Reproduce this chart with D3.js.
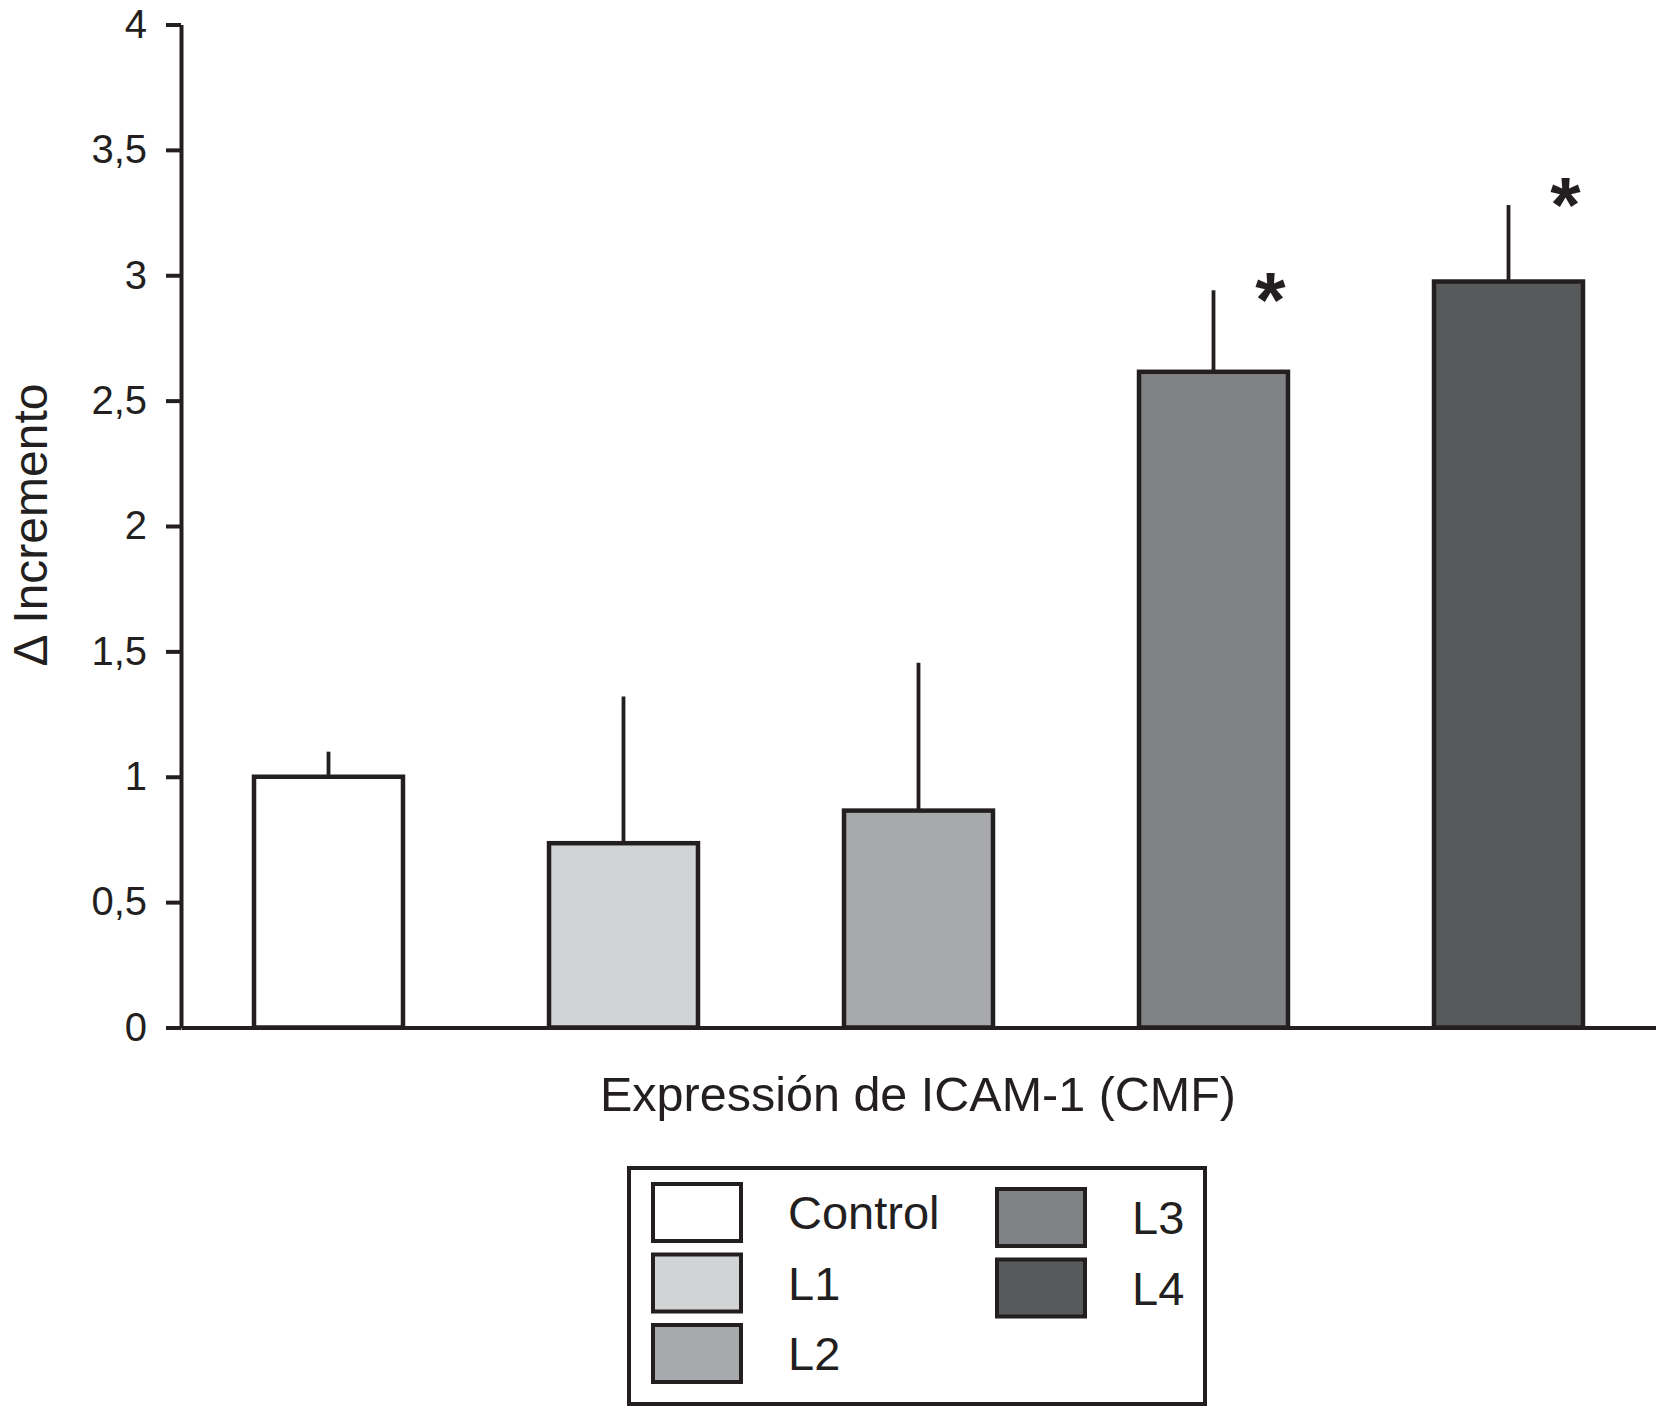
<!DOCTYPE html>
<html>
<head>
<meta charset="utf-8">
<script src="https://cdn.jsdelivr.net/npm/d3@7"></script>
<style>
  body { margin: 0; background: #fff; }
  text { font-family: "Liberation Sans", Arial, Helvetica, sans-serif; fill: #231f20; }
</style>
</head>
<body>
<div id="container"></div>
<script>
"use strict";

// Data.
const categories = ["Control", "L1", "L2", "L3", "L4"];
const means = [1.0, 0.735, 0.865, 2.615, 2.975];
const errors = [0.1, 0.585, 0.59, 0.325, 0.305];
// Height (in axis units) of the significance mark, null when none.
const starLevels = [null, null, null, 2.97, 3.35];
const fills = ["#ffffff", "#d1d3d4", "#a7a9ac", "#808285", "#58595b"];
const yTicks = [0, 0.5, 1, 1.5, 2, 2.5, 3, 3.5, 4];
const yTitle = "\u0394 Incremento";
const xTitle = "Expressión de ICAM-1 (CMF)";
// Legend columns: indexes into categories.
const legendColumns = [[0, 1, 2], [3, 4]];

const width = 1656;
const height = 1407;
const ink = "#231f20";

const data = categories.map((key, i) => ({
  key,
  value: means[i],
  err: errors[i],
  star: starLevels[i],
  fill: fills[i],
}));

const svg = d3.create("svg").attr("width", width).attr("height", height);

const x = d3
  .scaleBand()
  .domain(categories)
  .range([181, 1656])
  .paddingInner(0.495)
  .paddingOuter(0.2475);

const y = d3.scaleLinear().domain([0, 4]).range([1027.5, 24.5]);

// Draw bar.
svg
  .selectAll(".bar")
  .data(data)
  .enter()
  .append("rect")
  .attr("class", "bar")
  .attr("x", (d) => x(d.key))
  .attr("y", (d) => y(d.value))
  .attr("width", x.bandwidth())
  .attr("height", (d) => y(0) - y(d.value))
  .style("fill", (d) => d.fill)
  .style("stroke", ink)
  .style("stroke-width", 4.5);

// Upper error bars, no caps.
svg
  .selectAll(".err")
  .data(data)
  .enter()
  .append("line")
  .attr("class", "err")
  .attr("x1", (d) => x(d.key) + x.bandwidth() / 2)
  .attr("x2", (d) => x(d.key) + x.bandwidth() / 2)
  .attr("y1", (d) => y(d.value))
  .attr("y2", (d) => y(d.value + d.err))
  .style("stroke", ink)
  .style("stroke-width", 3.8);

// Significance marks.
const starSize = 78;
svg
  .selectAll(".star")
  .data(data.filter((d) => d.star !== null))
  .enter()
  .append("text")
  .attr("class", "star")
  .attr("x", (d) => x(d.key) + x.bandwidth() / 2 + 57)
  .attr("y", (d) => y(d.star) + starSize * 0.57)
  .attr("text-anchor", "middle")
  .style("font-size", `${starSize}px`)
  .style("font-weight", "bold")
  .text("*");

// Draw x-axis.
svg
  .append("g")
  .attr("transform", `translate(0, ${y(0)})`)
  .call(d3.axisBottom(x).tickValues([]).tickSizeOuter(0))
  .call((g) => g.select(".domain").attr("stroke", ink).attr("stroke-width", 4));

// Draw y-axis.
svg
  .append("g")
  .attr("transform", "translate(181, 0)")
  .call(
    d3
      .axisLeft(y)
      .tickValues(yTicks)
      .tickSize(15)
      .tickSizeOuter(0)
      .tickPadding(19)
      .tickFormat((d) => String(d).replace(".", ","))
  )
  .call((g) => g.select(".domain").attr("stroke", ink).attr("stroke-width", 4))
  .call((g) => g.selectAll(".tick line").attr("stroke", ink).attr("stroke-width", 4))
  .call((g) =>
    g
      .selectAll(".tick text")
      .attr("fill", ink)
      .style("font-family", '"Liberation Sans", Arial, sans-serif')
      .style("font-size", "40px")
  );

// Axis titles.
svg
  .append("text")
  .attr("transform", "translate(47, 525) rotate(-90)")
  .attr("text-anchor", "middle")
  .style("font-size", "48px")
  .text(yTitle);

svg
  .append("text")
  .attr("x", 918)
  .attr("y", 1111)
  .attr("text-anchor", "middle")
  .style("font-size", "48.5px")
  .text(xTitle);

// Legend.
const legend = svg.append("g");
legend
  .append("rect")
  .attr("x", 629)
  .attr("y", 1168)
  .attr("width", 576)
  .attr("height", 236)
  .style("fill", "#fff")
  .style("stroke", ink)
  .style("stroke-width", 4);

const colX = [653, 997];
const colTop = [1184, 1189];
const rowStep = 70.5;
legendColumns.forEach((idx, c) => {
  const items = legend
    .selectAll(`.leg-${c}`)
    .data(idx.map((i) => data[i]))
    .enter()
    .append("g")
    .attr("class", `leg-${c}`)
    .attr("transform", (d, j) => `translate(${colX[c]}, ${colTop[c] + j * rowStep})`);

  items
    .append("rect")
    .attr("width", 88)
    .attr("height", 57)
    .style("fill", (d) => d.fill)
    .style("stroke", ink)
    .style("stroke-width", 4);

  items
    .append("text")
    .attr("x", 135)
    .attr("y", 45)
    .style("font-size", "47px")
    .text((d) => d.key);
});

document.getElementById("container").append(svg.node());
</script>
</body>
</html>
